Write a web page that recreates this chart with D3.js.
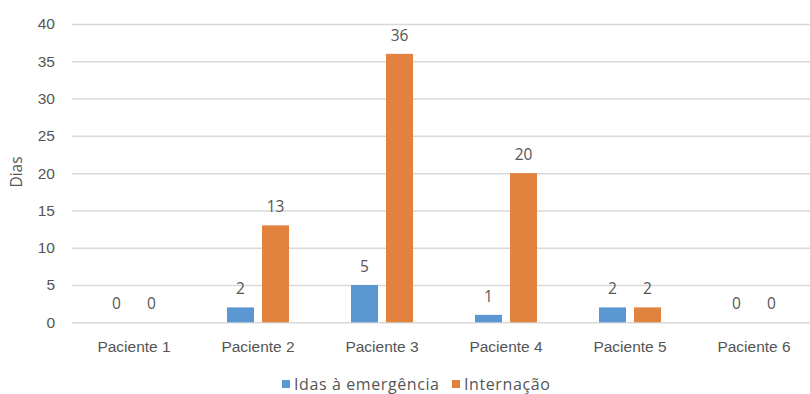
<!DOCTYPE html>
<html>
<head>
<meta charset="utf-8">
<script src="https://cdn.jsdelivr.net/npm/d3@7"></script>
<style>
  html, body { margin: 0; padding: 0; background: #fff; }
  svg { display: block; font-family: "Open Sans", sans-serif; }
</style>
</head>
<body>
<svg id="chart" width="810" height="394"></svg>
<script>
// Dias por paciente
const categories = ["Paciente 1", "Paciente 2", "Paciente 3", "Paciente 4", "Paciente 5", "Paciente 6"];
const seriesNames = ["Idas à emergência", "Internação"];
const emergencias = [0, 2, 5, 1, 2, 0];
const internacoes = [0, 13, 36, 20, 2, 0];
const yTicks = [0, 5, 10, 15, 20, 25, 30, 35, 40];
const colors = ["#5B97D3", "#E2823F"];

const series = [emergencias, internacoes];
const svg = d3.select("#chart");
const textColor = "#555555";
const fontSize = 15.5;

const x0 = d3.scaleBand().domain(categories).range([72, 816]).paddingInner(0.5).paddingOuter(0.25);
const x1 = d3.scaleBand().domain(seriesNames).range([0, x0.bandwidth()]).paddingInner(0.229);
const y = d3.scaleLinear().domain([0, 40]).range([322.3, 24]);

// Linhas de grade e rótulos do eixo Y
const yAxis = d3.axisLeft(y).tickValues(yTicks).tickSize(-(816 - 72)).tickPadding(17);
const gy = svg.append("g").attr("transform", "translate(72,0)").call(yAxis);
gy.select(".domain").remove();
gy.selectAll(".tick line").attr("stroke", "#D9D9D9").attr("stroke-width", 1.5);
gy.selectAll(".tick text").attr("fill", textColor).attr("font-size", fontSize);

// Rótulos das categorias
const xAxis = d3.axisBottom(x0).tickSize(0).tickPadding(19);
const gx = svg.append("g").attr("transform", "translate(0,322.3)").call(xAxis);
gx.select(".domain").remove();
gx.selectAll(".tick text").attr("fill", textColor).attr("font-size", fontSize);

// Título do eixo Y
svg.append("text")
  .attr("transform", "translate(22,172) rotate(-90)")
  .attr("text-anchor", "middle")
  .attr("fill", textColor)
  .attr("font-size", fontSize)
  .text("Dias");

// Barras e rótulos de valores
seriesNames.forEach((name, si) => {
  const g = svg.append("g");
  g.selectAll("rect").data(series[si]).join("rect")
    .attr("x", (d, i) => x0(categories[i]) + x1(name))
    .attr("y", d => y(d))
    .attr("width", x1.bandwidth())
    .attr("height", d => y(0) - y(d))
    .attr("fill", colors[si]);
  g.selectAll("text").data(series[si]).join("text")
    .attr("x", (d, i) => x0(categories[i]) + x1(name) + x1.bandwidth() / 2)
    .attr("y", d => y(d) - 13)
    .attr("text-anchor", "middle")
    .attr("fill", textColor)
    .attr("font-size", fontSize)
    .text(d => d);
});

// Legenda
const legendX = [282, 452];
const legend = svg.append("g");
seriesNames.forEach((name, si) => {
  legend.append("rect")
    .attr("x", legendX[si]).attr("y", 380)
    .attr("width", 8).attr("height", 8)
    .attr("fill", colors[si]);
  legend.append("text")
    .attr("x", legendX[si] + 12).attr("y", 390)
    .attr("fill", textColor)
    .attr("font-size", 16)
    .attr("letter-spacing", 0.6)
    .text(name);
});
</script>
</body>
</html>
